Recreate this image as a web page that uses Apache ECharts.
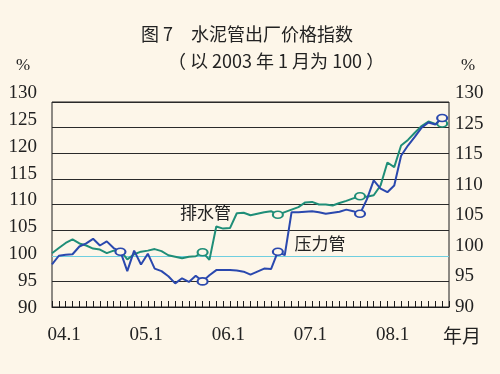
<!DOCTYPE html>
<html><head><meta charset="utf-8">
<script src="https://cdn.jsdelivr.net/npm/echarts@6/dist/echarts.min.js"></script>
<style>html,body{margin:0;padding:0;background:#FDF6E9;}#c{width:500px;height:374px;}</style>
</head><body><div id="c"></div><script>
// ---- data ----
const categories = [
 '2004.01','2004.02','2004.03','2004.04','2004.05','2004.06','2004.07','2004.08','2004.09','2004.10','2004.11','2004.12',
 '2005.01','2005.02','2005.03','2005.04','2005.05','2005.06','2005.07','2005.08','2005.09','2005.10','2005.11','2005.12',
 '2006.01','2006.02','2006.03','2006.04','2006.05','2006.06','2006.07','2006.08','2006.09','2006.10','2006.11','2006.12',
 '2007.01','2007.02','2007.03','2007.04','2007.05','2007.06','2007.07','2007.08','2007.09','2007.10','2007.11','2007.12',
 '2008.01','2008.02','2008.03','2008.04','2008.05','2008.06','2008.07','2008.08','2008.09','2008.10','2008.11'];
const xTickLabels = {'2004.01':'04.1','2005.01':'05.1','2006.01':'06.1','2007.01':'07.1','2008.01':'08.1'};
// 排水管 (drainage pipe)
const drainPipe = [100.5,101.5,102.5,103.2,102.4,102.0,101.4,101.2,100.5,101.0,
 101.0,99.3,100.3,100.8,101.0,101.3,100.9,100.1,99.8,99.5,
 99.8,99.9,100.7,99.2,105.7,105.3,105.4,108.3,108.4,107.9,
 108.2,108.5,108.7,108.0,108.5,109.0,109.5,110.4,110.5,110.0,
 110.0,109.8,110.3,110.7,111.2,111.6,111.5,111.8,113.7,118.2,
 117.3,121.5,122.6,124.0,125.3,126.2,125.7,125.8];
// 压力管 (pressure pipe)
const pressurePipe = [98.3,100.0,100.2,100.3,101.8,102.4,103.3,102.0,102.8,101.5,
 100.8,97.0,101.0,98.3,100.4,97.5,97.0,96.0,94.6,95.6,
 94.9,96.1,95.0,96.2,97.2,97.2,97.2,97.1,96.9,96.3,
 96.9,97.5,97.4,100.8,100.1,108.5,108.5,108.6,108.7,108.5,
 108.2,108.4,108.6,109.0,108.7,108.2,111.0,114.7,113.1,112.4,
 113.7,119.5,121.5,123.2,125.0,126.0,125.6,126.9];
const drainMarks = [22,33,45,57];
const pressureMarks = [10,22,33,45,57];
const leftTicks = {min:90, max:130, step:5};
const rightTickLabels = ['90','95','100','105','110','115','125','130'];
const baseValue = 100;

// ---- style ----
const BG = '#FDF6E9';
const GREEN = '#1F8E78';
const BLUE = '#2A48AE';
const CYAN = '#6FCFE0';
const INK = '#1c1c1c';
const SERIF = '"Liberation Serif", "DejaVu Serif", serif';
const CJK = '"Noto Sans CJK SC", sans-serif';

function buildData(values, marks, color) {
  return values.map((v, i) => marks.indexOf(i) >= 0 ? {
    value: v, symbol: 'circle', symbolSize: [10, 7],
    itemStyle: {color: BG, borderColor: color, borderWidth: 1.8}
  } : {value: v, symbol: 'none'});
}
const nLines = (leftTicks.max - leftTicks.min) / leftTicks.step + 1;
const splitColors = [];
for (let k = 0; k < nLines; k++) splitColors.push(leftTicks.min + k * leftTicks.step === baseValue ? CYAN : '#2a2a2a');

const txt = (size, fam) => ({fontFamily: fam, fontSize: size, fontWeight: 'normal', color: '#222'});

const chart = echarts.init(document.getElementById('c'), null, {renderer: 'canvas'});
chart.setOption({
  backgroundColor: BG,
  animation: false,
  title: [
    {text: '图 7　水泥管出厂价格指数', left: 141, top: 25, padding: 0, textStyle: txt(18, CJK)},
    {text: '（ 以 2003 年 1 月为 100 ）', left: 168, top: 52, padding: 0, textStyle: txt(18, CJK)},
    {text: '%', left: 16, top: 57, padding: 0, textStyle: txt(17, SERIF)},
    {text: '%', left: 461, top: 57, padding: 0, textStyle: txt(17, SERIF)},
    {text: '年月', left: 443, top: 326, padding: 0, textStyle: txt(19, CJK)}
  ],
  grid: [
    {left: 52, right: 51, top: 102, height: 205, show: true, borderColor: INK, borderWidth: 1, backgroundColor: 'transparent'},
    {left: 52, right: 51, top: 93, height: 215},
    {left: 52, right: 51, top: 93, height: 214}
  ],
  xAxis: [
    {gridIndex: 0, type: 'category', data: categories, boundaryGap: false,
     axisLine: {lineStyle: {color: INK, width: 1}},
     axisTick: {inside: true, length: 6, interval: 0, lineStyle: {color: INK}},
     axisLabel: {interval: (idx, val) => xTickLabels[val] !== undefined,
       formatter: v => xTickLabels[v] || '', fontFamily: SERIF, fontSize: 19, color: '#222',
       margin: 19, padding: [0, 0, 0, 24]},
     splitLine: {show: false}},
    {gridIndex: 1, type: 'value', show: false, min: 0, max: 1},
    {gridIndex: 2, type: 'value', show: false, min: 0, max: 1}
  ],
  yAxis: [
    {gridIndex: 0, type: 'value', min: leftTicks.min, max: leftTicks.max, interval: leftTicks.step,
     axisLine: {show: false}, axisTick: {show: false}, axisLabel: {show: false},
     splitLine: {show: true, lineStyle: {color: splitColors, width: 1}}},
    {gridIndex: 1, type: 'value', position: 'left', min: leftTicks.min, max: leftTicks.max, interval: leftTicks.step,
     axisLine: {show: false}, axisTick: {show: false}, splitLine: {show: false},
     axisLabel: {margin: 15, fontFamily: SERIF, fontSize: 19, color: '#222'}},
    {gridIndex: 2, type: 'value', position: 'right', min: 0, max: rightTickLabels.length - 1, interval: 1,
     axisLine: {show: false}, axisTick: {show: false}, splitLine: {show: false},
     axisLabel: {margin: 6, fontFamily: SERIF, fontSize: 19, color: '#222', formatter: v => rightTickLabels[v]}}
  ],
  series: [
    {name: '排水管', type: 'line', xAxisIndex: 0, yAxisIndex: 0, data: buildData(drainPipe, drainMarks, GREEN),
     showSymbol: true, showAllSymbol: true, symbol: 'none', lineStyle: {color: GREEN, width: 2}, itemStyle: {color: GREEN},
     z: 3,
     markPoint: {symbol: 'rect', symbolSize: 1, itemStyle: {color: 'rgba(0,0,0,0)'},
       label: {show: true, position: 'inside', formatter: '排水管', fontFamily: CJK, fontSize: 17, color: '#222', offset: [3, 2]},
       data: [{coord: ['2005.11', 108.9]}]}},
    {name: '压力管', type: 'line', xAxisIndex: 0, yAxisIndex: 0, data: buildData(pressurePipe, pressureMarks, BLUE),
     showSymbol: true, showAllSymbol: true, symbol: 'none', lineStyle: {color: BLUE, width: 2}, itemStyle: {color: BLUE},
     z: 4,
     markPoint: {symbol: 'rect', symbolSize: 1, itemStyle: {color: 'rgba(0,0,0,0)'},
       label: {show: true, position: 'inside', formatter: '压力管', fontFamily: CJK, fontSize: 17, color: '#222', offset: [1, 0]},
       data: [{coord: ['2007.04', 102.3]}]}}
  ]
});
</script></body></html>
